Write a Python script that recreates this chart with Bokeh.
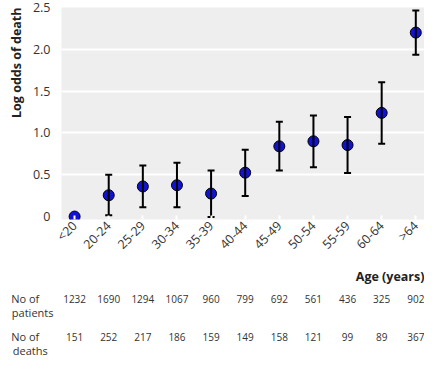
import math
from bokeh.plotting import figure
from bokeh.models import Range1d, FixedTicker, Title, ColumnDataSource
from bokeh.layouts import column
from bokeh.embed import file_html
from bokeh.resources import INLINE
from bokeh.core.properties import value

ages = ["<20", "20-24", "25-29", "30-34", "35-39", "40-44",
        "45-49", "50-54", "55-59", "60-64", ">64"]
log_odds = [0.0, 0.255, 0.36, 0.375, 0.275, 0.525, 0.84, 0.90, 0.855, 1.24, 2.20]
ci_low = [float("nan"), 0.015, 0.11, 0.11, -0.005, 0.245, 0.55, 0.59, 0.52, 0.87, 1.935]
ci_high = [float("nan"), 0.50, 0.61, 0.645, 0.55, 0.80, 1.135, 1.21, 1.19, 1.605, 2.465]
patients = [1232, 1690, 1294, 1067, 960, 799, 692, 561, 436, 325, 902]
deaths = [151, 252, 217, 186, 159, 149, 158, 121, 99, 89, 367]
row_labels = ["No of", "patients", "No of", "deaths"]

FONT = "Open Sans"
TXT = "#333333"
idx = list(range(len(ages)))

X0, X1 = -0.384, 10.255
Y0, Y1 = -0.035, 2.5
LEFT, RIGHT = 44, 0
W = 424
P_H = 267
Q_H = 358 - P_H

src = ColumnDataSource(dict(x=idx, y=log_odds))
err = ColumnDataSource(dict(x=idx[1:], lo=ci_low[1:], hi=ci_high[1:]))

p = figure(width=W, height=P_H,
           x_range=Range1d(X0, X1), y_range=Range1d(Y0, Y1),
           output_backend="svg", toolbar_location=None,
           min_border_left=LEFT, min_border_right=RIGHT, min_border_top=7,
           min_border_bottom=48,
           background_fill_color="#eeeeee", border_fill_color="white",
           outline_line_color=None)

p.xgrid.visible = False
p.ygrid.ticker = FixedTicker(ticks=[0.5, 1.0, 1.5, 2.0])
p.ygrid.grid_line_color = "white"
p.ygrid.grid_line_width = 2

p.yaxis.ticker = FixedTicker(ticks=[0, 0.5, 1.0, 1.5, 2.0, 2.5])
p.yaxis.major_label_overrides = {0: "0", 0.5: "0.5", 1: "1.0", 1.5: "1.5", 2: "2.0", 2.5: "2.5"}
p.yaxis.axis_line_color = None
p.yaxis.major_tick_line_color = None
p.yaxis.minor_tick_line_color = None
p.yaxis.major_label_standoff = 5

p.xaxis.ticker = FixedTicker(ticks=idx)
p.xaxis.major_label_overrides = {i: a for i, a in zip(idx, ages)}
p.xaxis.major_label_orientation = math.pi / 4
p.xaxis.axis_line_color = None
p.xaxis.major_tick_line_color = "white"
p.xaxis.major_tick_line_width = 2
p.xaxis.major_tick_in = 4
p.xaxis.major_tick_out = 0
p.xaxis.minor_tick_line_color = None
p.xaxis.major_label_standoff = 4

for ax in (p.xaxis, p.yaxis):
    ax.major_label_text_font = FONT
    ax.major_label_text_font_size = "12.5px"
    ax.major_label_text_color = TXT

p.scatter("x", "y", source=src, size=11, fill_color="#1212d0",
          line_color="black", line_width=1)
p.segment(x0="x", y0="lo", x1="x", y1="hi", source=err,
          line_color="black", line_width=2)
p.scatter("x", "lo", source=err, marker="dash", size=7,
          line_color="black", line_width=2)
p.scatter("x", "hi", source=err, marker="dash", size=7,
          line_color="black", line_width=2)

p.add_layout(Title(text="Log odds of death", align="right",
                   text_font=FONT, text_font_style="bold",
                   text_font_size="12.5px", text_color="#222222"), "left")

# ---- lower panel: axis title + table of counts ----
ROW_Y = [31, 45, 69, 83]          # pixel rows of the table (layout)
AGE_Y = 9
NB = "\u00a0"
# pad with non-breaking spaces so the right-aligned labels line up on the left
pad = {"No of": 5, "patients": 0, "deaths": 2}

q = figure(width=W, height=Q_H,
           x_range=Range1d(X0, X1), y_range=Range1d(Q_H, 0),
           output_backend="svg", toolbar_location=None,
           x_axis_location=None,
           min_border_left=LEFT, min_border_right=RIGHT,
           min_border_top=0, min_border_bottom=0,
           outline_line_color=None, background_fill_color="white")
q.grid.visible = False
q.yaxis.ticker = FixedTicker(ticks=ROW_Y)
q.yaxis.major_label_overrides = {y: t + NB * pad[t] for y, t in zip(ROW_Y, row_labels)}
q.yaxis.axis_line_color = None
q.yaxis.major_tick_line_color = None
q.yaxis.minor_tick_line_color = None
q.yaxis.major_label_standoff = 2
q.yaxis.major_label_text_font = FONT
q.yaxis.major_label_text_font_size = "11px"
q.yaxis.major_label_text_color = TXT

q.text(x=[X1], y=[AGE_Y], text=["Age (years)"],
       text_align="right", text_baseline="middle",
       text_font=value(FONT), text_font_style="bold",
       text_font_size="12.5px", text_color="#222222")

pat = ColumnDataSource(dict(x=idx, y=[ROW_Y[0]] * len(idx),
                            t=[str(v) for v in patients]))
dea = ColumnDataSource(dict(x=idx, y=[ROW_Y[2]] * len(idx),
                            t=[str(v) for v in deaths]))
for s in (pat, dea):
    q.text(x="x", y="y", text="t", source=s,
           text_align="center", text_baseline="middle",
           text_font=value(FONT), text_font_size="10px", text_color=TXT)

layout = column(p, q, spacing=0)
open("out.html", "w").write(file_html(layout, INLINE))
